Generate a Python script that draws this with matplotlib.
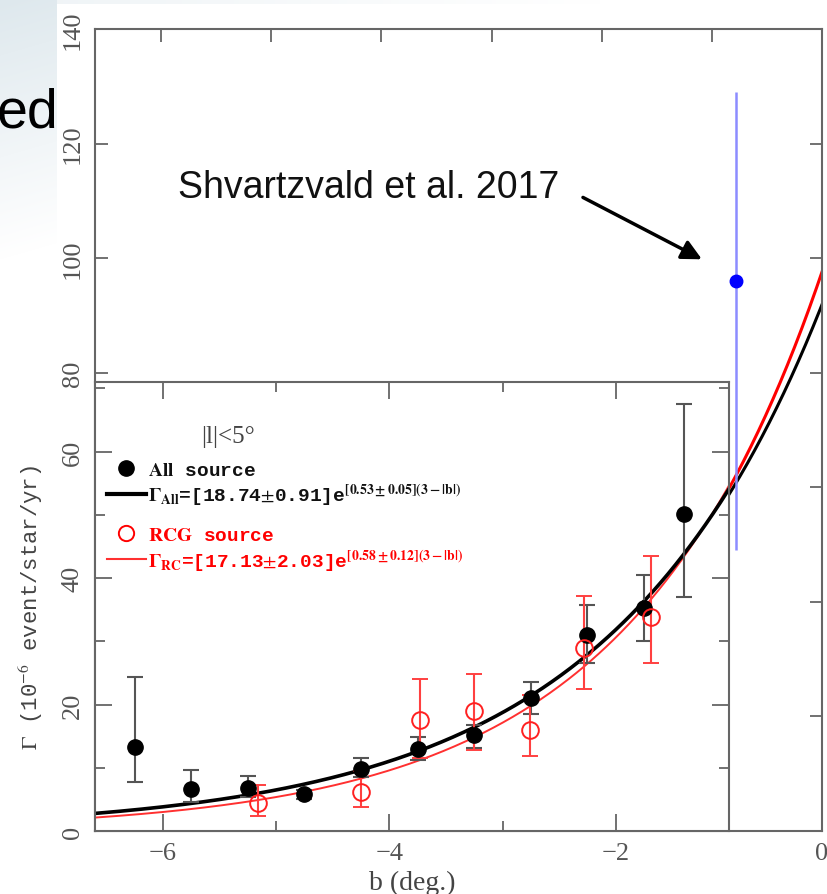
import numpy as np
import matplotlib.pyplot as plt
from matplotlib.lines import Line2D

plt.rcParams['mathtext.fontset'] = 'stix'

# inner figure: all sources (filled black)
b_all = [-6.25, -5.75, -5.25, -4.75, -4.25, -3.75, -3.25, -2.75, -2.25, -1.75, -1.4]
g_all = [13.3, 6.7, 6.8, 5.9, 9.8, 13.0, 15.2, 21.1, 31.0, 35.2, 50.2]
g_all_lo = [7.8, 4.6, 5.3, 5.0, 8.5, 11.3, 13.2, 18.5, 26.5, 30.0, 37.0]
g_all_hi = [24.4, 9.6, 8.7, 6.5, 11.5, 14.8, 16.8, 23.6, 35.7, 40.5, 67.5]

# inner figure: RCG sources (open red)
b_rc = [-5.16, -4.25, -3.73, -3.25, -2.76, -2.28, -1.69]
g_rc = [4.4, 6.2, 17.6, 18.9, 16.0, 29.0, 33.8]
g_rc_lo = [2.3, 3.8, 11.5, 12.8, 11.8, 22.5, 26.5]
g_rc_hi = [7.3, 9.5, 24.0, 24.8, 21.5, 37.2, 43.5]

# fit parameters from the legend
amp_all, k_all = 18.74, 0.53
amp_rc, k_rc = 17.13, 0.58

# Shvartzvald et al. 2017 point
b_sh = [-0.78]
g_sh = [96.0]
g_sh_lo = [49.0]
g_sh_hi = [129.0]

grey = '#666666'
fig = plt.figure(figsize=(8.27, 8.95), dpi=100)

# slide background: light gradient in the top-left corner
bg = fig.add_axes([0, 0, 1, 1], zorder=-10)
py, px = np.mgrid[0:895, 0:827]
shade = np.clip(1 - py / 260 - px / 900, 0, 1) * (px < 57)
shade = np.maximum(shade, 0.5 * np.clip(1 - px / 600, 0, 1) * (py < 5))
rgb = np.ones((895, 827, 3))
rgb -= shade[..., None] * np.array([0.13, 0.09, 0.07])
bg.imshow(rgb, aspect='auto', interpolation='bilinear')
bg.axis('off')

L, B = 95 / 827, (895 - 832) / 895
ax = fig.add_axes([L, B, (822 - 95) / 827, (832 - 30) / 895])
ax.set_facecolor('white')
bc = np.linspace(-6.6, 0, 400)
ax.plot(bc, amp_rc * np.exp(k_rc * (3 - np.abs(bc))), color='red', lw=2.2)
ax.plot(bc, amp_all * np.exp(k_all * (3 - np.abs(bc))), color='black', lw=2.2)
ax.errorbar(b_sh, g_sh,
            yerr=[np.subtract(g_sh, g_sh_lo), np.subtract(g_sh_hi, g_sh)],
            fmt='o', color='blue', ecolor='#8c8cff', ms=9, elinewidth=1.8, capsize=0)
ax.set_xlim(-6.6, 0)
ax.set_ylim(0, 140)
ax.set_xticks(range(-6, 1))
ax.set_xticklabels([''] * 6 + ['0'])
ax.set_yticks(range(0, 141, 20))
ax.set_yticklabels([''] * 4 + ['80', '100', '120', '140'])
ax.tick_params(direction='in', top=True, right=True, length=9, width=1.3,
               color=grey, labelsize=19, labelcolor='#555555', pad=8)
ax.tick_params(axis='y', labelrotation=90)
for lab in ax.get_xticklabels():
    lab.set_family('Liberation Serif')
for lab in ax.get_yticklabels():
    lab.set_family('Liberation Serif')
    lab.set_va('center')
for s in ax.spines.values():
    s.set_color(grey)
    s.set_linewidth(1.5)

ax.text(-5.85, 112.4, 'Shvartzvald et al. 2017', fontsize=27,
        family='Liberation Sans', va='center', color='#111111')
ax.annotate('', xy=(-1.09, 99.8), xytext=(-2.17, 110.6),
            arrowprops=dict(arrowstyle='-|>', color='black', lw=2.5,
                            mutation_scale=30, shrinkA=0, shrinkB=0))

# inset: the original figure
ax_in = fig.add_axes([L, B, (729 - 95) / 827, (832 - 383) / 895], zorder=2)
ax_in.set_facecolor('white')
ax_in.plot(bc, amp_rc * np.exp(k_rc * (3 - np.abs(bc))), color='#ff3030', lw=1.4)
ax_in.plot(bc, amp_all * np.exp(k_all * (3 - np.abs(bc))), color='black', lw=2.6)
ax_in.errorbar(b_all, g_all,
               yerr=[np.subtract(g_all, g_all_lo), np.subtract(g_all_hi, g_all)],
               fmt='o', color='black', ecolor='#555555', ms=11, elinewidth=1.5,
               capsize=6, capthick=1.5)
ax_in.errorbar(b_rc, g_rc,
               yerr=[np.subtract(g_rc, g_rc_lo), np.subtract(g_rc_hi, g_rc)],
               fmt='o', mfc='none', mec='#ff2020', mew=1.4, ecolor='#ff4040',
               ms=12, elinewidth=1.5, capsize=6, capthick=1.5)
ax_in.set_xlim(-6.6, -1.0)
ax_in.set_ylim(0, 71)
ax_in.set_xticks([-6, -4, -2])
ax_in.set_xticklabels(['\u22126', '\u22124', '\u22122'])
ax_in.set_xticks([-5, -3], minor=True)
ax_in.set_yticks([0, 20, 40, 60])
ax_in.set_yticks([10, 30, 50, 70], minor=True)
ax_in.tick_params(which='both', direction='in', top=True, right=True,
                  color=grey, width=1.3, labelsize=19, labelcolor='#555555', pad=8)
ax_in.tick_params(which='major', length=12)
ax_in.tick_params(which='minor', length=7)
ax_in.tick_params(axis='y', labelrotation=90)
for lab in ax_in.get_xticklabels():
    lab.set_family('Liberation Serif')
for lab in ax_in.get_yticklabels():
    lab.set_family('Liberation Serif')
    lab.set_va('center')
for s in ax_in.spines.values():
    s.set_color(grey)
    s.set_linewidth(1.5)
ax_in.set_xlabel('b (deg.)', family='Liberation Serif', fontsize=20,
                 color='#444444', labelpad=4)
ax_in.set_ylabel(r'$\Gamma$ (10$^{-6}$ event/star/yr)', family='Liberation Mono',
                 fontsize=16, color='#444444', labelpad=12)

ax_in.text(0.21, 0.88, '|l|<5°', transform=ax_in.transAxes, family='Liberation Serif',
           fontsize=18, color='#444444', ha='center', va='center')

prop = dict(family='Liberation Mono', weight='bold', size=14)
leg1 = ax_in.legend(
    handles=[Line2D([], [], marker='o', ms=11, color='black', ls='none'),
             Line2D([], [], color='black', lw=3)],
    labels=[r'$\mathbf{All}$ source',
            r'$\mathbf{\Gamma_{All}}$=[18.74$\pm$0.91]e$^{\mathbf{[0.53\pm0.05](3-|b|)}}$'],
    loc='upper left', bbox_to_anchor=(0.0, 0.85), frameon=False, prop=prop,
    handlelength=2.0, handletextpad=0.1, labelspacing=0.15, borderaxespad=0.2,
    labelcolor='#111111')
ax_in.add_artist(leg1)
ax_in.legend(
    handles=[Line2D([], [], marker='o', ms=11, mfc='none', mec='red', mew=1.4, ls='none'),
             Line2D([], [], color='#ff3030', lw=1.5)],
    labels=[r'$\mathbf{RCG}$ source',
            r'$\mathbf{\Gamma_{RC}}$=[17.13$\pm$2.03]e$^{\mathbf{[0.58\pm0.12](3-|b|)}}$'],
    loc='upper left', bbox_to_anchor=(0.0, 0.705), frameon=False, prop=prop,
    handlelength=2.0, handletextpad=0.1, labelspacing=0.15, borderaxespad=0.2,
    labelcolor='red')

fig.text(-0.004, 0.858, 'ed', fontsize=40, family='Liberation Sans',
         color='black', ha='left', va='baseline')

fig.savefig('out.png', dpi=100)
